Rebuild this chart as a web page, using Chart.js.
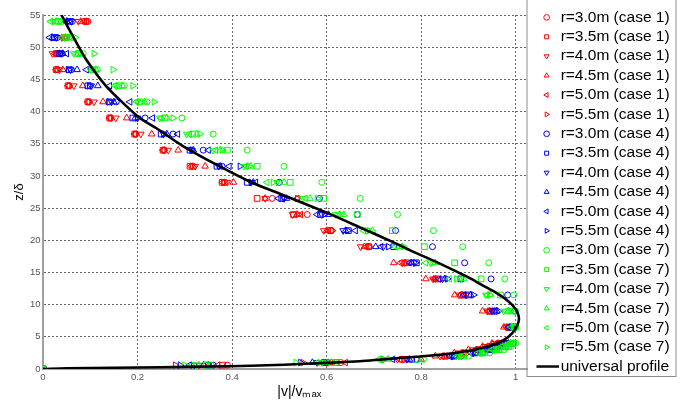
<!DOCTYPE html>
<html>
<head>
<meta charset="utf-8">
<script src="https://cdn.jsdelivr.net/npm/chart.js@4.4.0/dist/chart.umd.min.js"></script>
<style>
  html, body { margin: 0; padding: 0; background: #fff; }
  #wrap { width: 685px; height: 407px; }
</style>
</head>
<body>
<div id="wrap"><canvas id="chart" width="685" height="407"></canvas></div>
<script>
// heights z/delta shared by every measured profile
const zLevels = [0, 0.6, 1.0, 1.5, 2.0, 2.5, 3.0, 3.5, 4.0, 6.5, 9, 11.5, 14, 16.5, 19, 21.5, 24, 26.5, 29, 31.5, 34, 36.5, 39, 41.5, 44, 46.5, 49, 51.5, 54];

// |v|/vmax, case 1
const c1_r30 = [0, 0.39, 0.63, 0.77, 0.855, 0.895, 0.925, 0.95, 0.97, 0.99, 0.945, 0.885, 0.83, 0.765, 0.69, 0.61, 0.559, 0.485, 0.385, 0.318, 0.256, 0.196, 0.143, 0.097, 0.055, 0.03, 0.03, 0.05, 0.095];
const c1_r35 = [0, 0.38, 0.62, 0.76, 0.85, 0.89, 0.92, 0.945, 0.965, 0.985, 0.947, 0.89, 0.835, 0.77, 0.689, 0.608, 0.53, 0.453, 0.379, 0.311, 0.254, 0.194, 0.141, 0.095, 0.053, 0.028, 0.028, 0.045, 0.09];
const c1_r40 = [0, 0.33, 0.60, 0.75, 0.84, 0.88, 0.91, 0.935, 0.955, 0.98, 0.94, 0.88, 0.825, 0.76, 0.672, 0.594, 0.528, 0.47, 0.39, 0.322, 0.265, 0.207, 0.154, 0.108, 0.065, 0.035, 0.02, 0.04, 0.075];
const c1_r45 = [0, 0.35, 0.61, 0.80, 0.83, 0.87, 0.90, 0.93, 0.95, 0.975, 0.93, 0.871, 0.81, 0.742, 0.68, 0.60, 0.538, 0.47, 0.403, 0.343, 0.286, 0.23, 0.177, 0.127, 0.084, 0.042, 0.035, 0.048, 0.08];
const c1_r50 = [0, 0.37, 0.64, 0.755, 0.845, 0.885, 0.915, 0.94, 0.96, 0.98, 0.942, 0.884, 0.827, 0.756, 0.685, 0.603, 0.545, 0.538, 0.38, 0.313, 0.254, 0.194, 0.141, 0.095, 0.053, 0.028, 0.025, 0.042, 0.088];
const c1_r55 = [0, 0.28, 0.55, 0.765, 0.85, 0.89, 0.92, 0.945, 0.965, 0.985, 0.945, 0.888, 0.83, 0.768, 0.69, 0.612, 0.54, 0.538, 0.382, 0.315, 0.256, 0.196, 0.143, 0.097, 0.055, 0.03, 0.03, 0.046, 0.092];

// case 4
const c4_r30 = [0, 0.36, 0.60, 0.79, 0.885, 0.93, 0.96, 0.98, 0.995, 1.0, 0.998, 0.983, 0.948, 0.892, 0.824, 0.746, 0.665, 0.585, 0.50, 0.379, 0.339, 0.275, 0.216, 0.155, 0.10, 0.06, 0.04, 0.03, 0.062];
const c4_r35 = [0, 0.35, 0.595, 0.78, 0.87, 0.915, 0.945, 0.965, 0.98, 0.99, 0.955, 0.90, 0.884, 0.79, 0.742, 0.646, 0.587, 0.505, 0.432, 0.368, 0.311, 0.25, 0.19, 0.14, 0.095, 0.055, 0.035, 0.025, 0.056];
const c4_r40 = [0, 0.32, 0.58, 0.77, 0.865, 0.91, 0.94, 0.96, 0.975, 0.992, 0.95, 0.895, 0.845, 0.785, 0.72, 0.635, 0.59, 0.51, 0.44, 0.372, 0.315, 0.255, 0.20, 0.145, 0.102, 0.058, 0.038, 0.028, 0.06];
const c4_r45 = [0, 0.34, 0.57, 0.775, 0.875, 0.92, 0.95, 0.97, 0.985, 0.995, 0.96, 0.905, 0.85, 0.78, 0.704, 0.64, 0.604, 0.515, 0.445, 0.375, 0.318, 0.262, 0.195, 0.15, 0.116, 0.072, 0.042, 0.02, 0.05];
const c4_r50 = [0, 0.31, 0.60, 0.74, 0.86, 0.905, 0.935, 0.955, 0.97, 0.985, 0.952, 0.89, 0.838, 0.775, 0.715, 0.661, 0.58, 0.498, 0.45, 0.394, 0.35, 0.285, 0.232, 0.184, 0.141, 0.092, 0.05, 0.014, 0.048];
const c4_r55 = [0, 0.29, 0.545, 0.72, 0.87, 0.915, 0.945, 0.965, 0.98, 0.99, 0.964, 0.911, 0.856, 0.788, 0.731, 0.645, 0.595, 0.51, 0.44, 0.417, 0.315, 0.255, 0.20, 0.14, 0.098, 0.054, 0.036, 0.022, 0.054];

// case 7
const c7_r30 = [0, 0.355, 0.62, 0.805, 0.90, 0.945, 0.975, 0.99, 1.0, 1.0, 1.0, 0.996, 0.977, 0.943, 0.888, 0.826, 0.75, 0.671, 0.59, 0.51, 0.432, 0.36, 0.294, 0.22, 0.172, 0.115, 0.085, 0.06, 0.04];
const c7_r35 = [0, 0.345, 0.61, 0.79, 0.89, 0.935, 0.965, 0.985, 0.995, 1.0, 0.994, 0.968, 0.927, 0.871, 0.807, 0.739, 0.665, 0.594, 0.523, 0.453, 0.39, 0.317, 0.258, 0.205, 0.16, 0.105, 0.075, 0.05, 0.032];
const c7_r40 = [0, 0.325, 0.59, 0.72, 0.88, 0.925, 0.955, 0.975, 0.99, 0.995, 0.975, 0.937, 0.884, 0.82, 0.75, 0.685, 0.619, 0.55, 0.495, 0.425, 0.36, 0.304, 0.247, 0.20, 0.155, 0.10, 0.065, 0.045, 0.022];
const c7_r45 = [0, 0.33, 0.60, 0.73, 0.885, 0.93, 0.96, 0.98, 0.99, 0.998, 0.985, 0.947, 0.89, 0.83, 0.76, 0.697, 0.636, 0.565, 0.51, 0.44, 0.375, 0.325, 0.262, 0.215, 0.168, 0.112, 0.08, 0.055, 0.028];
const c7_r50 = [0, 0.315, 0.58, 0.71, 0.875, 0.92, 0.95, 0.97, 0.985, 0.99, 0.98, 0.94, 0.86, 0.81, 0.745, 0.678, 0.625, 0.555, 0.474, 0.43, 0.365, 0.31, 0.25, 0.198, 0.152, 0.108, 0.07, 0.04, 0.016];
const c7_r55 = [0, 0.30, 0.535, 0.72, 0.885, 0.93, 0.96, 0.98, 0.992, 0.995, 0.99, 0.945, 0.875, 0.825, 0.763, 0.69, 0.63, 0.58, 0.487, 0.435, 0.38, 0.332, 0.275, 0.235, 0.19, 0.148, 0.108, 0.068, 0.036];

// universal profile, read along the curve from the wall upwards
const profileV = [0, 0.05, 0.15, 0.25, 0.35, 0.44, 0.51, 0.6, 0.67, 0.72, 0.79, 0.85, 0.898, 0.93, 0.961, 0.985, 1.0, 1.007, 1.0, 0.985, 0.96, 0.93, 0.898, 0.862, 0.827, 0.778, 0.735, 0.68, 0.6, 0.509, 0.438, 0.368, 0.297, 0.24, 0.205, 0.177, 0.134, 0.092, 0.064, 0.039];
const profileZ = [0, 0.12, 0.2, 0.28, 0.38, 0.5, 0.67, 0.95, 1.2, 1.5, 1.9, 2.3, 2.8, 3.3, 4.0, 5.0, 6.3, 7.8, 9.3, 10.5, 11.8, 13.0, 14.3, 15.6, 16.8, 18.4, 19.9, 21.7, 24.3, 27.0, 29.1, 31.7, 34.6, 37.4, 39.0, 40.8, 43.9, 48.0, 51.6, 55];

const seriesLabels = [
  "r=3.0m (case 1)", "r=3.5m (case 1)", "r=4.0m (case 1)", "r=4.5m (case 1)", "r=5.0m (case 1)", "r=5.5m (case 1)",
  "r=3.0m (case 4)", "r=3.5m (case 4)", "r=4.0m (case 4)", "r=4.5m (case 4)", "r=5.0m (case 4)", "r=5.5m (case 4)",
  "r=3.0m (case 7)", "r=3.5m (case 7)", "r=4.0m (case 7)", "r=4.5m (case 7)", "r=5.0m (case 7)", "r=5.5m (case 7)"
];
const seriesValues = [c1_r30, c1_r35, c1_r40, c1_r45, c1_r50, c1_r55,
                      c4_r30, c4_r35, c4_r40, c4_r45, c4_r50, c4_r55,
                      c7_r30, c7_r35, c7_r40, c7_r45, c7_r50, c7_r55];

const caseColors = ["#ff0000", "#0000ff", "#00ff00"];
// o, square, down, up, left, right
const markers = [
  {style: "circle", rot: 0, r: 3},
  {style: "rect", rot: 0, r: 4},
  {style: "triangle", rot: 180, r: 3.8},
  {style: "triangle", rot: 0, r: 3.8},
  {style: "triangle", rot: 270, r: 3.8},
  {style: "triangle", rot: 90, r: 3.8}
];

const FONT = "'Liberation Sans', Arial, sans-serif";

// short black line used as the legend symbol of the profile
const lineIcon = document.createElement("canvas");
lineIcon.width = 25;
lineIcon.height = 3;
const lg = lineIcon.getContext("2d");
lg.fillStyle = "#000";
lg.fillRect(0, 0.3, 25, 2.4);

const datasets = seriesValues.map((vals, i) => {
  const m = markers[i % 6];
  return {
    label: seriesLabels[i],
    data: vals.map((v, k) => ({x: v, y: zLevels[k]})),
    showLine: false,
    pointStyle: m.style,
    pointRotation: m.rot,
    pointRadius: m.r,
    pointHoverRadius: m.r,
    pointBorderWidth: 1,
    borderColor: caseColors[Math.floor(i / 6)],
    backgroundColor: "rgba(0,0,0,0)",
    order: 100 - i
  };
});

datasets.push({
  label: "universal profile",
  data: profileV.map((v, k) => ({x: v, y: profileZ[k]})),
  showLine: true,
  borderColor: "#000",
  borderWidth: 2.6,
  tension: 0.3,
  pointRadius: 0,
  pointHoverRadius: 0,
  pointStyle: lineIcon,
  backgroundColor: "#000",
  order: 0
});

// legend sits beside the axes, centred on them, inside a thin frame
const legendFrame = {
  id: "legendFrame",
  afterLayout(chart) {
    const l = chart.legend;
    const a = chart.chartArea;
    l.top = a.top - 30;
    l.bottom = a.bottom + 30;
    l.left = a.right + 9;
  },
  afterDraw(chart) {
    const ctx = chart.ctx;
    const a = chart.chartArea;
    ctx.save();
    ctx.strokeStyle = "#8c8c8c";
    ctx.lineWidth = 1;
    ctx.strokeRect(a.right - 0.5, -2, 149, a.bottom + 9.5);
    ctx.restore();
  }
};

new Chart(document.getElementById("chart").getContext("2d"), {
  type: "scatter",
  data: {datasets},
  plugins: [legendFrame],
  options: {
    responsive: false,
    animation: false,
    events: [],
    layout: {padding: {top: 15, right: 14.4, bottom: 0, left: 0}},
    plugins: {
      tooltip: {enabled: false},
      legend: {
        position: "right",
        align: "center",
        labels: {
          usePointStyle: true,
          boxWidth: 12.5,
          boxHeight: 4,
          padding: 3.9,
          color: "#000",
          font: {family: FONT, size: 15.5},
          sort: (a, b) => a.datasetIndex - b.datasetIndex
        }
      }
    },
    scales: {
      x: {
        type: "linear",
        min: 0,
        max: 1.025,
        afterFit: s => { s.height = 38; },
        ticks: {
          stepSize: 0.2,
          includeBounds: false,
          padding: 2.5,
          color: "#555",
          font: {family: FONT, size: 9.5},
          callback: v => (Math.round(v * 10) / 10).toString()
        },
        grid: {color: "#666", lineWidth: 1, drawTicks: false},
        border: {display: true, color: "#a0a0a0", width: 2, dash: [2, 2]},
        title: {
          display: true,
          text: "\u2003\u2003|v|/vₘₐₓ",
          color: "#000",
          font: {family: FONT, size: 14},
          padding: {top: 0, bottom: 6}
        }
      },
      y: {
        type: "linear",
        min: 0,
        max: 55,
        afterFit: s => { s.width = 43; },
        ticks: {
          stepSize: 5,
          padding: 2.5,
          color: "#555",
          font: {family: FONT, size: 9.5}
        },
        grid: {color: "#666", lineWidth: 1, drawTicks: false},
        border: {display: true, color: "#a0a0a0", width: 2, dash: [2, 2]},
        title: {
          display: true,
          text: "z/δ",
          color: "#000",
          font: {family: FONT, size: 13},
          padding: {top: 12, bottom: 0}
        }
      }
    }
  }
});
</script>
</body>
</html>
